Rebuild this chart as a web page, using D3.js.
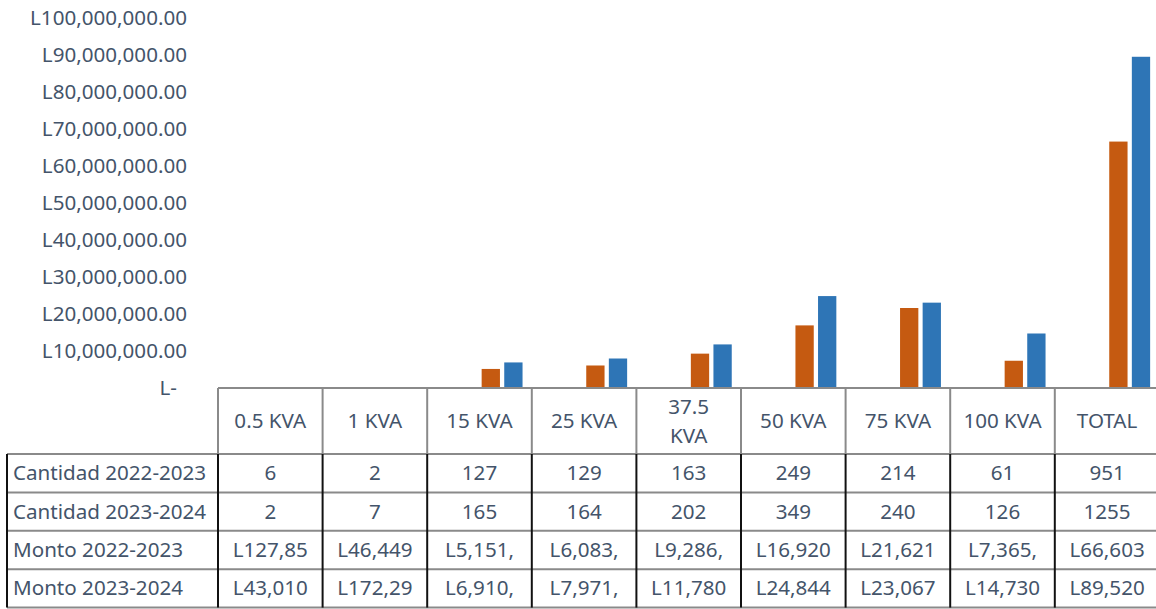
<!DOCTYPE html>
<html>
<head>
<meta charset="utf-8">
<script src="https://cdn.jsdelivr.net/npm/d3@7"></script>
<style>
  body { margin: 0; background: #fff; }
  svg { display: block; font-family: "Noto Sans", sans-serif; }
  .lbl { fill: #44546A; font-size: 20.6px; }
</style>
</head>
<body>
<div id="chart"></div>
<script>
// data
var categories = ["0.5 KVA", "1 KVA", "15 KVA", "25 KVA", "37.5 KVA", "50 KVA", "75 KVA", "100 KVA", "TOTAL"];
var cantidad2223 = [6, 2, 127, 129, 163, 249, 214, 61, 951];
var cantidad2324 = [2, 7, 165, 164, 202, 349, 240, 126, 1255];
var monto2223 = [127850, 46449, 5151400, 6083500, 9286600, 16920500, 21621300, 7365400, 66603000];
var monto2324 = [43010, 172290, 6910200, 7971300, 11780400, 24844100, 23067200, 14730300, 89520000];
var seriesNames = ["Cantidad 2022-2023", "Cantidad 2023-2024", "Monto 2022-2023", "Monto 2023-2024"];
var yTicks = [0, 10e6, 20e6, 30e6, 40e6, 50e6, 60e6, 70e6, 80e6, 90e6, 100e6];

var seriesValues = [cantidad2223, cantidad2324, monto2223, monto2324];
var colors = ["#4472C4", "#ED7D31", "#C55A11", "#2E75B6"];

var width = 1156, height = 609;
var plotLeft = 218, plotRight = 1159.4, base = 388, plotTop = 18;
var headerH = 66, rowH = 38.4, labelLeft = 7;

var svg = d3.select("#chart").append("svg")
    .attr("width", width).attr("height", height);

var x0 = d3.scaleBand().domain(categories).range([plotLeft, plotRight]).padding(0);
var x1 = d3.scaleBand().domain(seriesNames).range([0, x0.bandwidth()])
    .paddingInner(0.19).paddingOuter(0.41);
var y = d3.scaleLinear().domain([0, 100e6]).range([base, plotTop]);

var money = d3.format(",.2f");

// y axis (labels only)
var yAxis = svg.append("g")
    .attr("transform", "translate(" + plotLeft + ",0)")
    .call(d3.axisLeft(y).tickValues(yTicks).tickSize(0).tickPadding(31)
      .tickFormat(function(d) { return d === 0 ? "L-" : "L" + money(d); }));
yAxis.select(".domain").remove();
yAxis.attr("font-family", null).attr("font-size", null);
yAxis.selectAll("text").attr("class", "lbl").attr("fill", null)
    .attr("dx", function(d) { return d === 0 ? -10 : 0; });

// bars
var groups = svg.append("g").selectAll("g")
    .data(categories)
    .join("g")
    .attr("transform", function(d) { return "translate(" + x0(d) + ",0)"; });

groups.selectAll("rect")
    .data(function(d, i) {
      return seriesNames.map(function(s, k) { return { s: s, k: k, v: seriesValues[k][i] }; });
    })
    .join("rect")
    .attr("x", function(d) { return x1(d.s); })
    .attr("width", x1.bandwidth())
    .attr("y", function(d) { return y(d.v); })
    .attr("height", function(d) { return base - y(d.v); })
    .attr("fill", function(d) { return colors[d.k]; });

// data table
var table = svg.append("g");
var rowTop = function(r) { return base + headerH + r * rowH; };
var tableBottom = rowTop(seriesNames.length);

// horizontal lines
table.append("line").attr("x1", plotLeft).attr("x2", plotRight).attr("y1", base).attr("y2", base)
    .attr("stroke", "#8a8a8a").attr("stroke-width", 2);
d3.range(seriesNames.length + 1).forEach(function(r) {
  table.append("line").attr("x1", labelLeft).attr("x2", plotRight)
      .attr("y1", rowTop(r)).attr("y2", rowTop(r))
      .attr("stroke", "#8a8a8a").attr("stroke-width", 2);
});

// vertical lines
var bounds = categories.map(function(c) { return x0(c); }).concat([plotRight]);
bounds.forEach(function(bx) {
  table.append("line").attr("x1", bx).attr("x2", bx).attr("y1", base).attr("y2", rowTop(0))
      .attr("stroke", "#8a8a8a").attr("stroke-width", 2);
});
[labelLeft].concat(bounds).forEach(function(bx) {
  table.append("line").attr("x1", bx).attr("x2", bx).attr("y1", rowTop(0)).attr("y2", tableBottom)
      .attr("stroke", "#111").attr("stroke-width", 2);
});

// header labels
categories.forEach(function(c) {
  var cx = x0(c) + x0.bandwidth() / 2;
  var t = table.append("text").attr("class", "lbl").attr("text-anchor", "middle")
      .attr("x", cx).attr("y", base + headerH / 2 + 7).text(c);
  if (t.node().getComputedTextLength() > x0.bandwidth() * 0.77) {
    var words = c.split(" ");
    t.text(null).attr("y", base + headerH / 2 - 7);
    words.forEach(function(w, i) {
      t.append("tspan").attr("x", cx).attr("dy", i === 0 ? 0 : 29).text(w);
    });
  }
});

// rows
seriesNames.forEach(function(s, r) {
  var ty = rowTop(r) + rowH / 2 + 7;
  table.append("text").attr("class", "lbl").attr("x", labelLeft + 6).attr("y", ty).text(s);
  table.selectAll(null)
      .data(seriesValues[r])
      .join("text")
      .attr("class", "lbl")
      .attr("text-anchor", "middle")
      .attr("x", function(d, i) { return x0(categories[i]) + x0.bandwidth() / 2; })
      .attr("y", ty)
      .text(function(d) { return r < 2 ? d : ("L" + money(d)).slice(0, 7); });
});
</script>
</body>
</html>
